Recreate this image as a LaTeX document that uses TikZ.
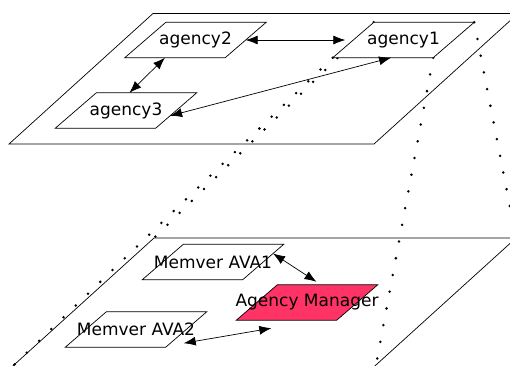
\documentclass[tikz,border=0pt]{standalone}
\usepackage{fontspec}
\setmainfont{DejaVu Sans}
\usetikzlibrary{arrows.meta,calc}
\definecolor{amred}{RGB}{255,51,102}
\newcommand{\pcorners}[1]{%
  \coordinate (#1tl) at ($(#1.north west)+(41,0)$);
  \coordinate (#1tr) at (#1.north east);
  \coordinate (#1br) at ($(#1.south east)+(-41,0)$);
  \coordinate (#1bl) at (#1.south west);}
\begin{document}
\begin{tikzpicture}[x=1pt,y=-1pt,
  para/.style={rectangle, minimum height=35pt, minimum width=141pt, inner sep=0pt},
  pbox/.style={draw, fill=white, line width=0.7pt},
  lbl/.style={font=\fontsize{17}{20}\selectfont, inner sep=1pt},
  plane/.style={draw, line width=0.7pt},
  link/.style={{Latex[length=12pt,width=9pt]}-{Latex[length=12pt,width=9pt]}, line width=0.7pt},
  dots/.style={line width=2.8pt, line cap=round, dash pattern=on 0pt off 17pt}
]
\useasboundingbox (0,0) rectangle (510,365);
\clip (0,0) rectangle (510,365);
% planes
\draw[plane] (153,13.5) -- (518,13.5) -- (374,144) -- (9,144) -- cycle;
\draw[plane] (-2.6,380) -- (154,238) -- (516,238) -- (359.4,380);
\coordinate (ptl) at (154,238);
\coordinate (ptr) at (516,238);
\coordinate (pbr) at (376,365);
\coordinate (pbl) at (14,365);
% node frames (invisible) and corners
\node[para] (a1) at (403.5,40) {};
\node[para] (a2) at (195.5,40) {};
\node[para] (a3) at (126,110.5) {};
\node[para] (M1) at (213,262) {};
\node[para] (AM) at (307,302.5) {};
\node[para] (M2) at (136,329.5) {};
\pcorners{a1}\pcorners{a2}\pcorners{a3}
\pcorners{M1}\pcorners{AM}\pcorners{M2}
% dotted projection lines
\draw[dots] (a1tl) -- (ptl);
\draw[dots] (a1tr) -- (ptr);
\draw[dots] (a1br) -- (pbr);
\draw[dots] (a1bl) -- (pbl);
% parallelograms
\draw[pbox] (a1tl) -- (a1tr) -- (a1br) -- (a1bl) -- cycle;
\draw[pbox] (a2tl) -- (a2tr) -- (a2br) -- (a2bl) -- cycle;
\draw[pbox] (a3tl) -- (a3tr) -- (a3br) -- (a3bl) -- cycle;
\draw[pbox] (M1tl) -- (M1tr) -- (M1br) -- (M1bl) -- cycle;
\draw[pbox, fill=amred] (AMtl) -- (AMtr) -- (AMbr) -- (AMbl) -- cycle;
\draw[pbox] (M2tl) -- (M2tr) -- (M2br) -- (M2bl) -- cycle;
% labels
\node[lbl] (a1t) at (a1.center) {agency1};
\node[lbl] (a2t) at (a2.center) {agency2};
\node[lbl] (a3t) at (a3.center) {agency3};
\node[lbl] (M1t) at (M1.center) {Memver AVA1};
\node[lbl] (AMt) at (AM.center) {Agency Manager};
\node[lbl] (M2t) at (M2.center) {Memver AVA2};
% arrows
\draw[link, shorten >=8pt] ($(a2tr)!0.5!(a2br)$) -- ($(a1tl)!0.5!(a1bl)$);
\draw[link] ($(a2bl)!0.4!(a2br)$) -- ($(a3tl)!0.33!(a3tr)$);
\draw[link] ($(a1bl)!0.58!(a1br)$) -- ($(a3tr)!0.65!(a3br)$);
\draw[link] ($(M1tr)!0.26!(M1br)$) -- ($(AMtl)!0.39!(AMtr)+(0,-3)$);
\draw[link] ($(M2br)+(18,-4)$) -- ($(AMbl)+(35,8)$);
\end{tikzpicture}
\end{document}
